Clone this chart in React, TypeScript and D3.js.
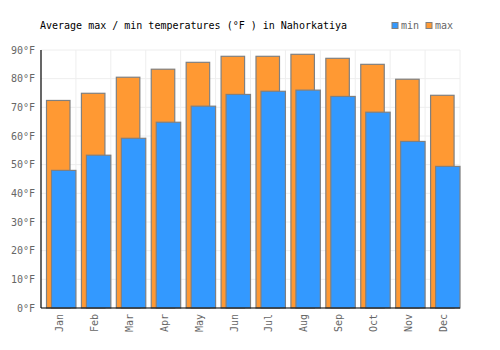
import React from "react";
import * as d3 from "d3";

const MONTHS = ["Jan", "Feb", "Mar", "Apr", "May", "Jun", "Jul", "Aug", "Sep", "Oct", "Nov", "Dec"];
const MAX_TEMPS = [72.4, 74.9, 80.5, 83.3, 85.7, 87.8, 87.8, 88.5, 87.1, 85.0, 79.8, 74.2];
const MIN_TEMPS = [48.0, 53.3, 59.2, 64.8, 70.4, 74.5, 75.6, 76.0, 73.8, 68.3, 58.1, 49.4];
const Y_TICKS = [0, 10, 20, 30, 40, 50, 60, 70, 80, 90];

const FONT = "'DejaVu Sans Mono', monospace";
const ORANGE = "#ff9933";
const BLUE = "#3399ff";
const STROKE = "#808080";

export default function App() {
  const width = 500;
  const height = 350;
  const margin = { top: 50, right: 40, bottom: 42, left: 41 };

  const x = d3
    .scaleBand()
    .domain(MONTHS)
    .range([margin.left, width - margin.right])
    .padding(0);

  const y = d3
    .scaleLinear()
    .domain([0, 90])
    .range([height - margin.bottom, margin.top]);

  const bw = x.bandwidth();
  const bottom = y(0);

  return (
    <svg
      width={width}
      height={height}
      style={{ position: "absolute", left: 0, top: 0, background: "#fff" }}
    >
      {/* title */}
      <text x={40} y={29} fontFamily={FONT} fontSize={10} fill="#000">
        Average max / min temperatures (°F ) in Nahorkatiya
      </text>

      {/* legend */}
      <rect x={392} y={22.5} width={6} height={6} fill={BLUE} stroke={STROKE} strokeWidth={1} />
      <text x={401} y={29} fontFamily={FONT} fontSize={10} fill="#666">min</text>
      <rect x={426} y={22.5} width={6} height={6} fill={ORANGE} stroke={STROKE} strokeWidth={1} />
      <text x={435} y={29} fontFamily={FONT} fontSize={10} fill="#666">max</text>

      {/* grid */}
      <g stroke="#eeeeee" strokeWidth={1}>
        {Y_TICKS.map((t) => (
          <line key={t} x1={margin.left} x2={width - margin.right} y1={y(t)} y2={y(t)} />
        ))}
        {MONTHS.map((m) => (
          <line key={m} x1={x(m)! + bw} x2={x(m)! + bw} y1={margin.top} y2={bottom} />
        ))}
      </g>

      {/* y tick labels */}
      {Y_TICKS.map((t) => (
        <text
          key={t}
          x={35}
          y={y(t)}
          dy="0.35em"
          textAnchor="end"
          fontFamily={FONT}
          fontSize={10}
          fill="#666"
        >
          {t}°F
        </text>
      ))}

      {/* max bars */}
      {MONTHS.map((m, i) => (
        <rect
          key={"max" + m}
          x={x(m)! + 5.5}
          y={y(MAX_TEMPS[i])}
          width={23.5}
          height={bottom - y(MAX_TEMPS[i])}
          fill={ORANGE}
          stroke={STROKE}
          strokeWidth={1.2}
        />
      ))}

      {/* min bars */}
      {MONTHS.map((m, i) => (
        <rect
          key={"min" + m}
          x={x(m)! + 10.5}
          y={y(MIN_TEMPS[i])}
          width={bw - 10.5}
          height={bottom - y(MIN_TEMPS[i])}
          fill={BLUE}
          stroke={STROKE}
          strokeWidth={1.2}
        />
      ))}

      {/* axes */}
      <line x1={margin.left} x2={margin.left} y1={margin.top} y2={bottom} stroke="#000" strokeWidth={1.2} />
      <line x1={margin.left} x2={width - margin.right} y1={bottom} y2={bottom} stroke="#000" strokeWidth={1.2} />

      {/* x labels */}
      {MONTHS.map((m) => {
        const cx = x(m)! + bw / 2 + 1;
        return (
          <text
            key={"lbl" + m}
            transform={`translate(${cx},314) rotate(-90)`}
            textAnchor="end"
            dy="0.35em"
            fontFamily={FONT}
            fontSize={10}
            fill="#666"
          >
            {m}
          </text>
        );
      })}
    </svg>
  );
}
